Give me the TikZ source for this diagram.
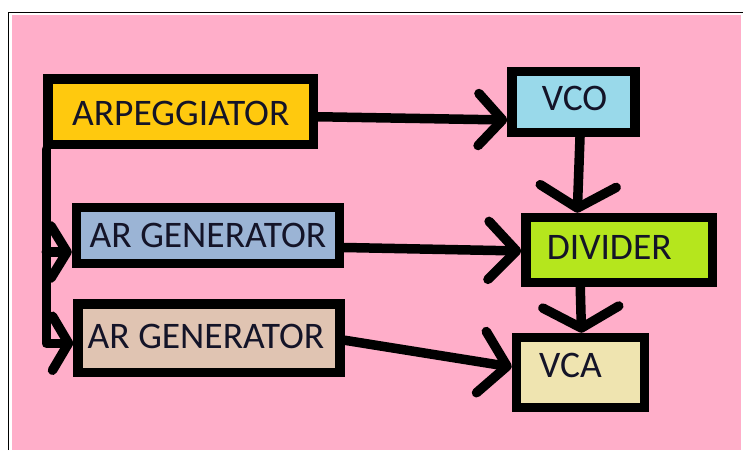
\documentclass[tikz,border=0pt]{standalone}
\usepackage{fontspec}
\setmainfont{Carlito}
\usetikzlibrary{arrows.meta,calc}
\definecolor{pinkbg}{HTML}{FFAEC9}
\definecolor{arpfill}{HTML}{FFC90E}
\definecolor{vcofill}{HTML}{99D9EA}
\definecolor{divfill}{HTML}{B5E61D}
\definecolor{arafill}{HTML}{9BB4D5}
\definecolor{arbfill}{HTML}{E0C4B2}
\definecolor{vcafill}{HTML}{EFE4B0}
\definecolor{txt}{HTML}{141428}
\begin{document}
\begin{tikzpicture}[x=1pt,y=-1pt,
  box/.style={draw=black, line width=9.5pt, rectangle, inner sep=0pt},
  lbl/.style={font=\fontsize{37.5}{42}\selectfont, text=txt, inner sep=0pt},
  conn/.style={draw=black, line width=9.5pt, line cap=round, line join=round}]
\useasboundingbox (0,0) rectangle (743,450);
\fill[white] (0,0) rectangle (743,450);
\fill[pinkbg] (12,15) rectangle (740.5,450);
\draw[line width=1.2pt] (8.5,450) -- (8.5,12.5) -- (743,12.5);

\node[box, fill=arpfill, minimum width=265.5pt, minimum height=65.5pt,
  label={[lbl,yshift=-2pt]center:ARPEGGIATOR}] (arp) at (180.75,111.75) {};
\node[box, fill=vcofill, minimum width=123pt, minimum height=61pt,
  label={[lbl,xshift=1pt,yshift=4pt]center:VCO}] (vco) at (573.5,102) {};
\node[box, fill=divfill, minimum width=186.5pt, minimum height=65pt,
  label={[lbl,xshift=-10pt,yshift=2.5pt]center:DIVIDER}] (div) at (619.25,250) {};
\node[box, fill=arafill, minimum width=263pt, minimum height=56pt,
  label={[lbl]center:AR GENERATOR}] (ara) at (208,235.5) {};
\node[box, fill=arbfill, minimum width=262pt, minimum height=68.5pt,
  label={[lbl,xshift=-3pt,yshift=1.5pt]center:AR GENERATOR}] (arb) at (209,338.25) {};
\node[box, fill=vcafill, minimum width=128pt, minimum height=70pt,
  label={[lbl,xshift=-10pt,yshift=7pt]center:VCA}] (vca) at (580.5,372.5) {};

\coordinate (trunk) at ($(arp.south west)+(3,0)$);
\coordinate (araIn) at ($(ara.west)+(0,16.5)$);
\coordinate (arbIn) at ($(arb.west)+(0,5)$);

\draw[conn, -{Straight Barb[length=24pt,width=52pt,round]}]
  ($(arp.east)+(0,5)$) -- ($(vco.west)+(0,18)$);
\draw[conn, -{Straight Barb[length=22pt,width=76pt,round]}]
  ($(vco.south)+(6.5,0)$) -- ($(div.north)+(-42,0)$);
\draw[conn, -{Straight Barb[length=16pt,width=54pt,round]}]
  (trunk) |- (arbIn);
\draw[conn, -{Straight Barb[length=16pt,width=52pt,round]}]
  (trunk |- araIn) -- (araIn);
\draw[conn, -{Straight Barb[length=28pt,width=58pt,round]}]
  ($(ara.east)+(0,12)$) -- ($(div.west)+(0,1)$);
\draw[conn, -{Straight Barb[length=26pt,width=62pt,round]}]
  ($(arb.east)+(0,2)$) -- ($(vca.west)+(0,-5.5)$);
\draw[conn, -{Straight Barb[length=21pt,width=76pt,round]}]
  ($(div.south)+(-39,0)$) -- ($(vca.north)+(1,0)$);
\end{tikzpicture}
\end{document}
